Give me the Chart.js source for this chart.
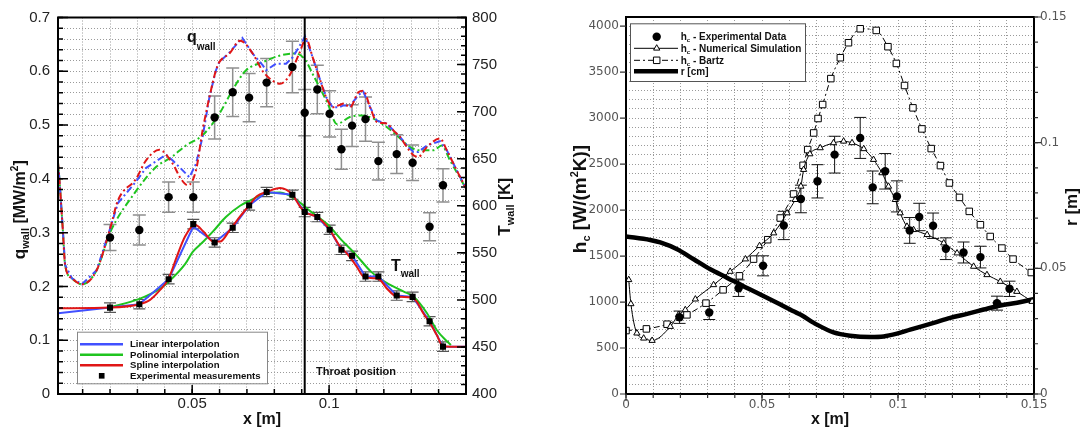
<!DOCTYPE html>
<html>
<head>
<meta charset="utf-8">
<script src="https://cdn.jsdelivr.net/npm/chart.js@4.4.1/dist/chart.umd.min.js"></script>
<style>
  body { margin: 0; background: #fff; }
  canvas { position: absolute; top: 0; }
  #left { left: 0; }
  #right { left: 540px; }
</style>
</head>
<body>
<canvas id="left" width="540" height="428"></canvas>
<canvas id="right" width="544" height="428"></canvas>
<script>
// ---- left panel: wall heat flux (q) and wall temperature (T) ----
const measX = [0.0200, 0.0307, 0.0414, 0.0504, 0.0582, 0.0648, 0.0708, 0.0772, 0.0866, 0.0911,
               0.0957, 0.1002, 0.1045, 0.1084, 0.1133, 0.1180, 0.1247, 0.1305, 0.1367, 0.1416];
const qMeas = [0.291, 0.305, 0.366, 0.366, 0.514, 0.561, 0.551, 0.579, 0.608, 0.523,
               0.566, 0.521, 0.455, 0.499, 0.511, 0.433, 0.446, 0.430, 0.311, 0.388];
const qMeasErr = [0.024, 0.028, 0.028, 0.028, 0.040, 0.045, 0.045, 0.045, 0.048, 0.043,
                  0.045, 0.043, 0.037, 0.039, 0.041, 0.035, 0.036, 0.033, 0.026, 0.031];
const tMeas = [491.8, 495.4, 522, 580.5, 561, 576.6, 600.3, 614.6, 611.7, 593.3,
               588, 574.5, 553.2, 546.8, 524.8, 524.8, 504.6, 503.2, 477.3, 450.3];
const tMeasErr = [5, 5, 5, 5, 5, 5, 5, 5, 5, 5, 5, 5, 5, 5, 5, 5, 5, 5, 5, 5];

const qSpline = [[0.001,0.43],[0.0015,0.40],[0.0027,0.31],[0.0036,0.24],[0.0061,0.215],[0.0097,0.204],
  [0.0151,0.23],[0.02,0.307],[0.0229,0.36],[0.0295,0.40],[0.0331,0.434],[0.038,0.454],[0.0429,0.428],
  [0.0459,0.40],[0.0484,0.388],[0.0514,0.416],[0.0538,0.49],[0.0563,0.552],[0.0587,0.602],[0.0599,0.617],
  [0.0636,0.633],[0.0675,0.657],[0.0721,0.633],[0.0758,0.60],[0.0792,0.583],[0.0821,0.577],[0.0855,0.592],
  [0.0891,0.633],[0.0916,0.66],[0.094,0.626],[0.0964,0.589],[0.0989,0.552],[0.1013,0.533],[0.1037,0.537],
  [0.1054,0.54],[0.1076,0.533],[0.1107,0.561],[0.1125,0.564],[0.115,0.533],[0.1174,0.506],[0.121,0.503],
  [0.1235,0.49],[0.1259,0.478],[0.1284,0.459],[0.1308,0.444],[0.1326,0.441],[0.1357,0.459],[0.1405,0.475],
  [0.143,0.453],[0.1466,0.416],[0.15,0.382]];
const qLinear = [[0.001,0.43],[0.0015,0.40],[0.0027,0.31],[0.0036,0.24],[0.0061,0.215],[0.0097,0.204],
  [0.0151,0.23],[0.02,0.307],[0.0229,0.355],[0.0295,0.395],[0.0331,0.42],[0.0404,0.445],[0.0429,0.434],
  [0.0459,0.419],[0.049,0.403],[0.0514,0.428],[0.0538,0.478],[0.0563,0.552],[0.0587,0.602],[0.0599,0.617],
  [0.0636,0.635],[0.0683,0.662],[0.0721,0.633],[0.0758,0.611],[0.077,0.602],[0.0806,0.614],[0.0843,0.614],
  [0.0867,0.626],[0.0904,0.657],[0.0912,0.665],[0.094,0.626],[0.0964,0.589],[0.0989,0.552],[0.1013,0.533],
  [0.1037,0.533],[0.1054,0.537],[0.1076,0.535],[0.1107,0.556],[0.1125,0.562],[0.115,0.533],[0.1174,0.508],
  [0.121,0.503],[0.1235,0.49],[0.1259,0.478],[0.1284,0.462],[0.1308,0.45],[0.1326,0.45],[0.1357,0.462],
  [0.1405,0.47],[0.143,0.453],[0.1466,0.416],[0.15,0.382]];
const qPoly = [[0.001,0.43],[0.0015,0.40],[0.0027,0.31],[0.0036,0.24],[0.0061,0.215],[0.0097,0.204],
  [0.0151,0.23],[0.02,0.30],[0.0289,0.373],[0.0368,0.422],[0.0423,0.44],[0.0477,0.462],[0.0538,0.481],
  [0.0599,0.521],[0.0654,0.571],[0.0697,0.602],[0.0758,0.617],[0.0818,0.629],[0.0879,0.633],[0.091,0.623],
  [0.0946,0.589],[0.0995,0.54],[0.1028,0.502],[0.1076,0.515],[0.1119,0.518],[0.1162,0.512],[0.1204,0.499],
  [0.1247,0.481],[0.1296,0.459],[0.1332,0.453],[0.1381,0.453],[0.1411,0.462],[0.1442,0.434],[0.149,0.391],
  [0.15,0.382]];

const tSpline = [[0.001,491],[0.02,491.8],[0.0307,495.4],[0.0346,500],[0.0383,510.6],[0.0413,522],
  [0.0444,546],[0.0474,567.3],[0.051,579.8],[0.0541,572.7],[0.0577,562],[0.0602,562],[0.0638,574.5],
  [0.0675,588.6],[0.0708,600.3],[0.0736,610],[0.0772,614.6],[0.0821,618.8],[0.0866,611.7],[0.0894,599],
  [0.0911,593.3],[0.0957,588],[0.1002,574.5],[0.104,556.7],[0.1064,549.7],[0.1101,535.4],[0.1125,524.8],
  [0.1162,523],[0.1186,521.3],[0.121,512.4],[0.1247,503.5],[0.1302,502.4],[0.132,498.2],[0.1344,485.8],
  [0.1369,475.2],[0.1393,462.8],[0.1415,451],[0.1442,450.3],[0.15,450.3]];
const tLinear = [[0.001,485.8],[0.02,491.8],[0.0307,495.4],[0.0414,522],[0.0504,578],[0.0582,561],
  [0.0648,576.6],[0.0708,600.3],[0.0772,614.6],[0.0866,611.7],[0.0911,593.3],[0.0957,588],[0.1002,574.5],
  [0.1045,553.2],[0.1084,546.8],[0.1133,524.8],[0.118,524.8],[0.1247,504.6],[0.1305,503.2],[0.1367,477.3],
  [0.1416,450.3],[0.15,450.3]];
const tPoly = [[0.02,492],[0.0307,501],[0.0383,512],[0.0413,519],[0.0474,538],[0.0502,551],[0.0541,562],
  [0.0577,573],[0.0623,588],[0.0675,600],[0.0708,605],[0.0772,613],[0.0821,614],[0.0882,606],[0.0932,594],
  [0.0995,580],[0.1044,564],[0.1092,550],[0.1153,530],[0.121,518],[0.1271,509],[0.1308,503.5],[0.1357,486],
  [0.1393,468],[0.143,456],[0.1445,452]];

const throatX = 0.0911;
const xLabelsLeft = ['0.05', '0.1'];
const qLabels = ['0', '0.1', '0.2', '0.3', '0.4', '0.5', '0.6', '0.7'];
const tLabels = ['400', '450', '500', '550', '600', '650', '700', '750', '800'];
const legendLeft = ['Linear interpolation', 'Polinomial interpolation', 'Spline interpolation', 'Experimental measurements'];
const qwallAt = [0.0481, 0.655];
const twallAt = [0.1226, 531];
const throatTextAt = [0.0952, 0.035];

// ---- right panel: heat transfer coefficient and nozzle radius ----
const hExpX = [0.0197, 0.0306, 0.0414, 0.0504, 0.058, 0.0643, 0.0704, 0.0767, 0.0861, 0.0907,
               0.0953, 0.0996, 0.1043, 0.1078, 0.1129, 0.1176, 0.1241, 0.1303, 0.1364, 0.141];
const hExp = [835, 886, 1151, 1394, 1833, 2121, 2313, 2603, 2785, 2247,
              2422, 2149, 1779, 1925, 1830, 1580, 1539, 1489, 988, 1144];
const hExpErr = [67, 76, 90, 109, 154, 150, 181, 200, 223, 178,
                 193, 169, 140, 149, 138, 118, 114, 118, 76, 83];
const hNumerical = [[0.001,1242],[0.0018,980],[0.004,661],[0.0065,606],[0.0096,581],[0.0163,733],[0.0193,861],
  [0.0218,915],[0.0255,1031],[0.0322,1187],[0.0383,1332],[0.0439,1467],[0.0491,1612],[0.0543,1750],
  [0.0592,1968],[0.0622,2113],[0.0643,2258],[0.0653,2440],[0.0676,2610],[0.0714,2676],[0.0763,2731],
  [0.08,2748],[0.0831,2731],[0.0874,2666],[0.091,2549],[0.0941,2404],[0.0965,2258],[0.099,2113],
  [0.1008,1968],[0.1033,1822],[0.1057,1786],[0.1107,1732],[0.1168,1641],[0.1217,1532],[0.1278,1387],
  [0.1327,1296],[0.1376,1223],[0.1437,1114],[0.1493,1005]];
const hBartz = [[0,690],[0.0075,708],[0.0151,759],[0.0224,861],[0.0294,988],[0.0357,1133],[0.0417,1285],
  [0.0469,1467],[0.0521,1678],[0.0567,1914],[0.0616,2175],[0.0651,2487],[0.0668,2658],[0.069,2839],
  [0.0706,2996],[0.0723,3148],[0.0753,3430],[0.0788,3657],[0.0818,3820],[0.0861,3972],[0.092,3954],
  [0.0963,3777],[0.0994,3595],[0.1024,3355],[0.1055,3112],[0.1088,2883],[0.1122,2669],[0.1156,2484],
  [0.1189,2295],[0.1226,2138],[0.1262,1986],[0.1303,1841],[0.1339,1713],[0.1382,1587],[0.1423,1467],
  [0.149,1321]];
const radius = [[0,0.0627],[0.0089,0.0613],[0.0126,0.0603],[0.0188,0.0576],[0.0249,0.0536],[0.031,0.0496],
  [0.0371,0.0463],[0.0432,0.0429],[0.0494,0.0396],[0.0555,0.0363],[0.0616,0.0329],[0.0641,0.0316],
  [0.0702,0.0276],[0.0763,0.0245],[0.0824,0.0232],[0.0898,0.0227],[0.0947,0.0229],[0.0996,0.024],
  [0.1045,0.0256],[0.1131,0.0283],[0.1192,0.0303],[0.1254,0.0319],[0.1315,0.0336],[0.1376,0.0352],
  [0.1438,0.0363],[0.1493,0.0376],[0.15,0.0378]];
const xLabelsRight = ['0', '0.05', '0.1', '0.15'];
const hLabels = ['0', '500', '1000', '1500', '2000', '2500', '3000', '3500', '4000'];
const rLabels = ['0', '0.05', '0.1', '0.15'];
const legendRight = [' - Experimental Data', ' - Numerical Simulation', ' - Bartz', 'r [cm]'];

// ---- helpers ----
const SANS = "'Liberation Sans', Arial, Helvetica, sans-serif";
const DEJA = "'DejaVu Sans', sans-serif";
const BLUE = '#4150ff', GREEN = '#1fc41f', RED = '#e01616';

const steps = (a, b, s) => {
  const out = [];
  for (let i = 0; a + i * s <= b + s / 2; i++) out.push(+(a + i * s).toFixed(6));
  return out;
};
const pts = arr => arr.map(p => ({ x: p[0], y: p[1] }));
const zip = (xs, ys) => xs.map((x, i) => ({ x, y: ys[i] }));
const labelOf = (v, labels) => {
  const l = labels.find(s => Math.abs(Number(s) - v) < 1e-9);
  return l === undefined ? '' : l;
};
const setTicks = vals => s => { s.ticks = vals.map(value => ({ value })); };

function rich(ctx, parts, x, y, rotate, align) {
  ctx.save();
  ctx.translate(x, y);
  if (rotate) ctx.rotate(rotate);
  ctx.textBaseline = 'alphabetic';
  ctx.textAlign = 'left';
  let w = 0;
  for (const p of parts) { ctx.font = p[1]; w += ctx.measureText(p[0]).width; }
  let cx = align === 'center' ? -w / 2 : 0;
  for (const p of parts) {
    ctx.font = p[1];
    ctx.fillText(p[0], cx, p[2] || 0);
    cx += ctx.measureText(p[0]).width;
  }
  ctx.restore();
}

function marks(ctx, scale, values, edge, len, vertical) {
  ctx.beginPath();
  for (const v of values) {
    const p = scale.getPixelForValue(v);
    if (vertical) { ctx.moveTo(edge, p); ctx.lineTo(edge + len, p); }
    else { ctx.moveTo(p, edge); ctx.lineTo(p, edge + len); }
  }
  ctx.stroke();
}

function errorBars(ctx, xs, ys, es, xScale, yScale, cap, color, width) {
  ctx.save();
  ctx.strokeStyle = color;
  ctx.lineWidth = width;
  ctx.beginPath();
  xs.forEach((xv, i) => {
    const px = xScale.getPixelForValue(xv);
    const top = yScale.getPixelForValue(ys[i] + es[i]);
    const bot = yScale.getPixelForValue(ys[i] - es[i]);
    ctx.moveTo(px, top); ctx.lineTo(px, bot);
    ctx.moveTo(px - cap, top); ctx.lineTo(px + cap, top);
    ctx.moveTo(px - cap, bot); ctx.lineTo(px + cap, bot);
  });
  ctx.stroke();
  ctx.restore();
}

function hline(ctx, x1, x2, y) {
  ctx.beginPath(); ctx.moveTo(x1, y); ctx.lineTo(x2, y); ctx.stroke();
}

const dotted = { color: '#9a9a9a', lineWidth: 1, drawTicks: false };
const noGrid = { drawOnChartArea: false, drawTicks: false };

// ---- left chart ----
const leftDecor = {
  id: 'leftDecor',
  beforeDatasetsDraw(chart) {
    const { ctx, scales: { x, y, yT } } = chart;
    errorBars(ctx, measX, qMeas, qMeasErr, x, y, 6.5, '#8f8f8f', 1.5);
    errorBars(ctx, measX, tMeas, tMeasErr, x, yT, 6, '#555', 1.2);
  },
  afterDatasetsDraw(chart) {
    const { ctx, chartArea: a, scales: { x, y, yT } } = chart;
    ctx.save();
    ctx.strokeStyle = '#000';
    ctx.lineWidth = 2;
    const tx = x.getPixelForValue(throatX);
    ctx.beginPath(); ctx.moveTo(tx, a.top); ctx.lineTo(tx, a.bottom); ctx.stroke();
    ctx.strokeRect(a.left, a.top, a.right - a.left, a.bottom - a.top);

    ctx.lineWidth = 1.5;
    marks(ctx, y, qLabels.map(Number), a.left, 10, true);
    marks(ctx, y, steps(0, 0.7, 0.02), a.left, 5, true);
    marks(ctx, yT, tLabels.map(Number), a.right, -9, true);
    marks(ctx, yT, steps(400, 800, 10), a.right, -5, true);
    marks(ctx, x, xLabelsLeft.map(Number), a.bottom, -9, false);
    marks(ctx, x, steps(0.01, 0.14, 0.01), a.bottom, -5, false);

    ctx.fillStyle = '#111';
    rich(ctx, [['q', 'bold 16px ' + SANS], ['wall', 'bold 10px ' + SANS, 8]],
      x.getPixelForValue(qwallAt[0]), y.getPixelForValue(qwallAt[1]));
    rich(ctx, [['T', 'bold 16px ' + SANS], ['wall', 'bold 10px ' + SANS, 6]],
      x.getPixelForValue(twallAt[0]), yT.getPixelForValue(twallAt[1]));
    rich(ctx, [['Throat position', 'bold 11px ' + SANS]],
      x.getPixelForValue(throatTextAt[0]), y.getPixelForValue(throatTextAt[1]));

    // axis titles
    const midX = (a.left + a.right) / 2, midY = (a.top + a.bottom) / 2;
    rich(ctx, [['x [m]', 'bold 16px ' + SANS]], midX, a.bottom + 30, 0, 'center');
    rich(ctx, [['q', 'bold 17px ' + SANS], ['wall', 'bold 11px ' + SANS, 4],
               [' [MW/m', 'bold 16px ' + SANS], ['2', 'bold 10px ' + SANS, -7], [']', 'bold 16px ' + SANS]],
      a.left - 33, midY + 4, -Math.PI / 2, 'center');
    rich(ctx, [['T', 'bold 17px ' + SANS], ['wall', 'bold 11px ' + SANS, 4], [' [K]', 'bold 16px ' + SANS]],
      a.right + 44, midY + 1, -Math.PI / 2, 'center');

    // legend
    const lx = a.left + 19, ly = a.bottom - 62.3;
    ctx.fillStyle = '#fff';
    ctx.fillRect(lx, ly, 190, 51.6);
    ctx.strokeStyle = '#888';
    ctx.lineWidth = 1;
    ctx.strokeRect(lx + 0.5, ly + 0.5, 190, 51.6);
    const cols = [BLUE, GREEN, RED];
    legendLeft.forEach((txt, i) => {
      const ry = ly + 12.6 + i * 10.5;
      if (i < 3) {
        ctx.strokeStyle = cols[i];
        ctx.lineWidth = 2.5;
        hline(ctx, lx + 3, lx + 46, ry);
      } else {
        ctx.fillStyle = '#000';
        Chart.helpers.drawPoint(ctx, { pointStyle: 'rect', radius: 4, borderWidth: 0 }, lx + 24.7, ry);
      }
      ctx.fillStyle = '#111';
      ctx.font = 'bold 9.6px ' + SANS;
      ctx.textBaseline = 'middle';
      ctx.textAlign = 'left';
      ctx.fillText(txt, lx + 53, ry + 0.5);
    });
    ctx.restore();
  }
};

const dashDot = [7, 3, 2, 3];
new Chart(document.getElementById('left'), {
  type: 'line',
  data: {
    datasets: [
      { data: zip(measX, qMeas), yAxisID: 'y', showLine: false, pointStyle: 'circle', pointRadius: 4.2,
        pointBackgroundColor: '#000', pointBorderColor: '#000', pointBorderWidth: 0 },
      { data: zip(measX, tMeas), yAxisID: 'yT', showLine: false, pointStyle: 'rect', pointRadius: 4.3,
        pointBackgroundColor: '#000', pointBorderColor: '#000', pointBorderWidth: 0 },
      { data: pts(tSpline), yAxisID: 'yT', borderColor: RED, borderWidth: 2, pointRadius: 0, cubicInterpolationMode: 'monotone' },
      { data: pts(tLinear), yAxisID: 'yT', borderColor: BLUE, borderWidth: 2, pointRadius: 0, tension: 0 },
      { data: pts(tPoly), yAxisID: 'yT', borderColor: GREEN, borderWidth: 2, pointRadius: 0, cubicInterpolationMode: 'monotone' },
      { data: pts(qSpline), yAxisID: 'y', borderColor: RED, borderWidth: 2, borderDash: dashDot, pointRadius: 0, cubicInterpolationMode: 'monotone' },
      { data: pts(qLinear), yAxisID: 'y', borderColor: BLUE, borderWidth: 2, borderDash: dashDot, borderDashOffset: 6, pointRadius: 0, tension: 0 },
      { data: pts(qPoly), yAxisID: 'y', borderColor: GREEN, borderWidth: 2, borderDash: dashDot, borderDashOffset: 3, pointRadius: 0, cubicInterpolationMode: 'monotone' }
    ]
  },
  options: {
    responsive: false,
    animation: false,
    devicePixelRatio: 1,
    layout: { padding: { top: 17.5, left: 0, right: 0, bottom: 0 } },
    plugins: { legend: { display: false }, tooltip: { enabled: false } },
    scales: {
      x: {
        type: 'linear', min: 0.001, max: 0.15,
        afterBuildTicks: setTicks(steps(0.01, 0.14, 0.01)),
        afterFit: s => { s.height = 34; },
        ticks: { callback: v => labelOf(v, xLabelsLeft), autoSkip: false, maxRotation: 0, padding: 1,
                 color: '#222', font: { family: SANS, size: 15 } },
        grid: dotted,
        border: { display: false, dash: [1, 2] }
      },
      y: {
        position: 'left', min: 0, max: 0.7,
        afterBuildTicks: setTicks(steps(0, 0.7, 0.02)),
        afterFit: s => { s.width = 58; },
        ticks: { callback: v => labelOf(v, qLabels), autoSkip: false, padding: 8,
                 color: '#222', font: { family: SANS, size: 15 } },
        grid: dotted,
        border: { display: false, dash: [1, 2] }
      },
      yT: {
        position: 'right', min: 400, max: 800,
        afterBuildTicks: setTicks(tLabels.map(Number)),
        afterFit: s => { s.width = 74; },
        ticks: { callback: v => labelOf(v, tLabels), autoSkip: false, padding: 6,
                 color: '#222', font: { family: SANS, size: 15 } },
        grid: noGrid,
        border: { display: false }
      }
    }
  },
  plugins: [leftDecor]
});

// ---- right chart ----
const rightDecor = {
  id: 'rightDecor',
  beforeDatasetsDraw(chart) {
    const { ctx, scales: { x, y } } = chart;
    errorBars(ctx, hExpX, hExp, hExpErr, x, y, 6, '#111', 1);
  },
  afterDatasetsDraw(chart) {
    const { ctx, chartArea: a, scales: { x, y, yR } } = chart;
    ctx.save();
    ctx.strokeStyle = '#000';
    ctx.lineWidth = 2;
    ctx.strokeRect(a.left, a.top, a.right - a.left, a.bottom - a.top);

    ctx.lineWidth = 1.2;
    ctx.strokeStyle = '#333';
    marks(ctx, y, hLabels.map(Number), a.left, -6, true);
    marks(ctx, x, xLabelsRight.map(Number), a.bottom, 7, false);
    marks(ctx, x, steps(0, 0.15, 0.01), a.bottom, 4, false);
    marks(ctx, yR, rLabels.map(Number), a.right, 7, true);
    marks(ctx, yR, steps(0, 0.15, 0.01), a.right, 4, true);

    ctx.fillStyle = '#111';
    const midX = (a.left + a.right) / 2, midY = (a.top + a.bottom) / 2;
    rich(ctx, [['x [m]', 'bold 16px ' + SANS]], midX, a.bottom + 30, 0, 'center');
    rich(ctx, [['h', 'bold 19px ' + SANS], ['c', 'bold 11px ' + SANS, 4], [' [W/(m', 'bold 19px ' + SANS],
               ['2', 'bold 11px ' + SANS, -8], ['K)]', 'bold 19px ' + SANS]],
      a.left - 40, midY - 6.5, -Math.PI / 2, 'center');
    rich(ctx, [['r [m]', 'bold 17px ' + SANS]], a.right + 43, midY + 1.5, -Math.PI / 2, 'center');

    // legend
    const lx = a.left + 4, ly = a.top + 6.3;
    ctx.fillStyle = '#fff';
    ctx.fillRect(lx, ly, 175, 57.7);
    ctx.strokeStyle = '#555';
    ctx.lineWidth = 1;
    ctx.strokeRect(lx + 0.5, ly + 0.5, 175, 57.7);
    const rows = [13.4, 25, 37, 48];
    legendRight.forEach((txt, i) => {
      const ry = ly + rows[i];
      const mx = lx + 26.7;
      ctx.strokeStyle = '#000';
      ctx.setLineDash([]);
      if (i === 0) {
        ctx.fillStyle = '#000';
        Chart.helpers.drawPoint(ctx, { pointStyle: 'circle', radius: 4.2, borderWidth: 0 }, mx, ry);
      } else if (i === 1) {
        ctx.lineWidth = 1;
        hline(ctx, lx + 4, lx + 48, ry);
        ctx.fillStyle = '#fff';
        Chart.helpers.drawPoint(ctx, { pointStyle: 'triangle', radius: 3.6, borderWidth: 1 }, mx, ry);
      } else if (i === 2) {
        ctx.lineWidth = 1;
        ctx.setLineDash([6, 3, 2, 3]);
        hline(ctx, lx + 4, lx + 48, ry);
        ctx.setLineDash([]);
        ctx.fillStyle = '#fff';
        Chart.helpers.drawPoint(ctx, { pointStyle: 'rect', radius: 4.6, borderWidth: 1 }, mx, ry);
      } else {
        ctx.lineWidth = 4.5;
        hline(ctx, lx + 4, lx + 48, ry);
      }
      ctx.fillStyle = '#111';
      const parts = i < 3
        ? [['h', 'bold 10px ' + SANS], ['c', 'bold 6px ' + SANS, 2], [txt, 'bold 10px ' + SANS]]
        : [[txt, 'bold 10px ' + SANS]];
      rich(ctx, parts, lx + 50.7, ry + 3.5);
    });
    ctx.restore();
  }
};

const rightTicks = { color: '#555', font: { family: DEJA, size: 12 } };
new Chart(document.getElementById('right'), {
  type: 'line',
  data: {
    datasets: [
      { data: zip(hExpX, hExp), showLine: false, pointStyle: 'circle', pointRadius: 4.2,
        pointBackgroundColor: '#000', pointBorderColor: '#000', pointBorderWidth: 0 },
      { data: pts(hNumerical), borderColor: '#000', borderWidth: 1, cubicInterpolationMode: 'monotone',
        pointStyle: 'triangle', pointRadius: 3.6, pointBackgroundColor: '#fff', pointBorderColor: '#000', pointBorderWidth: 1 },
      { data: pts(hBartz), borderColor: '#000', borderWidth: 1, borderDash: [6, 3, 2, 3], cubicInterpolationMode: 'monotone',
        pointStyle: 'rect', pointRadius: 4.6, pointBackgroundColor: '#fff', pointBorderColor: '#000', pointBorderWidth: 1 },
      { data: pts(radius), yAxisID: 'yR', borderColor: '#000', borderWidth: 4.5, pointRadius: 0, cubicInterpolationMode: 'monotone' }
    ]
  },
  options: {
    responsive: false,
    animation: false,
    devicePixelRatio: 1,
    layout: { padding: { top: 17, left: 0, right: 0, bottom: 0 } },
    plugins: { legend: { display: false }, tooltip: { enabled: false } },
    scales: {
      x: {
        type: 'linear', min: 0, max: 0.15,
        afterBuildTicks: setTicks(steps(0, 0.15, 0.01)),
        afterFit: s => { s.height = 34; },
        ticks: { ...rightTicks, callback: v => labelOf(v, xLabelsRight), autoSkip: false, maxRotation: 0, padding: 3.5 },
        grid: dotted,
        border: { display: false, dash: [1, 2] }
      },
      y: {
        position: 'left', min: 0, max: 4100,
        afterBuildTicks: setTicks(steps(0, 4100, 100)),
        afterFit: s => { s.width = 86; },
        ticks: { ...rightTicks, callback: v => labelOf(v, hLabels), autoSkip: false, padding: 7 },
        grid: dotted,
        border: { display: false, dash: [1, 2] }
      },
      yR: {
        position: 'right', min: 0, max: 0.15,
        afterBuildTicks: setTicks(rLabels.map(Number)),
        afterFit: s => { s.width = 50; },
        ticks: { ...rightTicks, callback: v => labelOf(v, rLabels), autoSkip: false, padding: 6 },
        grid: noGrid,
        border: { display: false }
      }
    }
  },
  plugins: [rightDecor]
});
</script>
</body>
</html>
